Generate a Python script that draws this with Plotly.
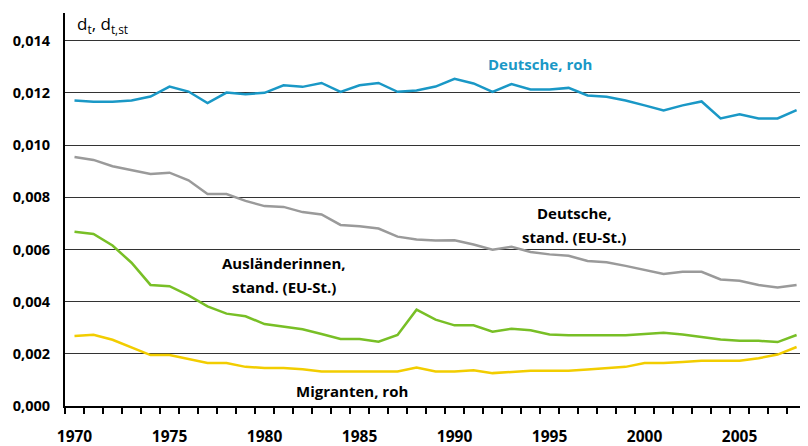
import plotly.graph_objects as go

years = list(range(1970, 2009))

deutsche_roh = [0.01171, 0.01166, 0.01166, 0.01171, 0.01186, 0.01224, 0.01205, 0.01161, 0.01201, 0.01195,
                0.01200, 0.01229, 0.01223, 0.01238, 0.01204, 0.01229, 0.01238, 0.01204, 0.01209, 0.01224,
                0.01254, 0.01236, 0.01204, 0.01234, 0.01213, 0.01213, 0.01219, 0.01190, 0.01185, 0.01171,
                0.01152, 0.01133, 0.01152, 0.01167, 0.01102, 0.01118, 0.01102, 0.01102, 0.01134]

deutsche_stand = [0.00954, 0.00943, 0.00919, 0.00903, 0.00889, 0.00894, 0.00865, 0.00812, 0.00812, 0.00786,
                  0.00766, 0.00763, 0.00743, 0.00734, 0.00694, 0.00689, 0.00680, 0.00649, 0.00638, 0.00634,
                  0.00635, 0.00619, 0.00599, 0.00610, 0.00590, 0.00581, 0.00576, 0.00556, 0.00551, 0.00537,
                  0.00522, 0.00506, 0.00514, 0.00514, 0.00485, 0.00480, 0.00464, 0.00454, 0.00464]

auslaenderinnen_stand = [0.00668, 0.00659, 0.00615, 0.00549, 0.00464, 0.00459, 0.00424, 0.00382, 0.00354, 0.00344,
                         0.00314, 0.00304, 0.00294, 0.00276, 0.00257, 0.00257, 0.00246, 0.00272, 0.00369, 0.00331,
                         0.00309, 0.00309, 0.00285, 0.00296, 0.00290, 0.00274, 0.00271, 0.00271, 0.00271, 0.00271,
                         0.00276, 0.00281, 0.00274, 0.00264, 0.00255, 0.00250, 0.00250, 0.00245, 0.00272]

migranten_roh = [0.00268, 0.00273, 0.00254, 0.00224, 0.00195, 0.00195, 0.00180, 0.00165, 0.00165, 0.00150,
                 0.00146, 0.00146, 0.00141, 0.00132, 0.00132, 0.00132, 0.00132, 0.00132, 0.00147, 0.00132,
                 0.00132, 0.00137, 0.00126, 0.00131, 0.00135, 0.00135, 0.00135, 0.00140, 0.00145, 0.00150,
                 0.00165, 0.00165, 0.00169, 0.00173, 0.00173, 0.00173, 0.00183, 0.00197, 0.00226]

y_ticks = [0.000, 0.002, 0.004, 0.006, 0.008, 0.010, 0.012, 0.014]
y_tick_text = ["0,000", "0,002", "0,004", "0,006", "0,008", "0,010", "0,012", "0,014"]
x_ticks = [1970, 1975, 1980, 1985, 1990, 1995, 2000, 2005]

FONT = "Open Sans"
series = [
    (deutsche_roh, "#1a98c6"),
    (deutsche_stand, "#9a9a9a"),
    (auslaenderinnen_stand, "#78bf26"),
    (migranten_roh, "#f2cd00"),
]

fig = go.Figure()
for vals, col in series:
    fig.add_trace(go.Scatter(x=years, y=vals, mode="lines",
                             line=dict(color=col, width=2.5), showlegend=False))

labels = [
    (1994.5, 0.01310, "Deutsche, roh", "#1a98c6"),
    (1996.3, 0.00739, "Deutsche,", "#000000"),
    (1996.3, 0.00648, "stand. (EU-St.)", "#000000"),
    (1981.05, 0.00548, "Ausländerinnen,", "#000000"),
    (1981.05, 0.00456, "stand. (EU-St.)", "#000000"),
    (1984.6, 0.00057, "Migranten, roh", "#000000"),
]
for lx, ly, txt, col in labels:
    fig.add_annotation(x=lx, y=ly, text="<b>" + txt + "</b>", showarrow=False,
                       font=dict(family=FONT, size=15, color=col),
                       align="center", xanchor="center", yanchor="middle")

fig.add_annotation(x=0, xref="paper", y=1.0, yref="paper", xanchor="left", yanchor="middle",
                   text="d<sub>t</sub>, d<sub>t,st</sub>", showarrow=False, xshift=10, yshift=-11,
                   font=dict(family=FONT, size=17, color="#000000"))

fig.update_layout(
    width=800, height=438,
    margin=dict(l=57, r=0, t=5, b=40),
    paper_bgcolor="white", plot_bgcolor="white",
    xaxis=dict(range=[1969.5, 2008.6], tickvals=x_ticks, ticks="",
               showgrid=False, showline=True, linecolor="black", linewidth=2,
               tickfont=dict(family=FONT, size=15.5, color="black", weight="bold"),
               ticklabelstandoff=15, automargin=False,
               minor=dict(ticks="outside", tick0=1969.5, dtick=1, ticklen=6,
                          tickwidth=2, tickcolor="black", showgrid=False),
               zeroline=False),
    yaxis=dict(range=[0, 0.01506], tickvals=y_ticks, ticktext=y_tick_text, ticks="",
               showgrid=True, gridcolor="#333333", gridwidth=1,
               showline=True, linecolor="black", linewidth=2,
               tickfont=dict(family=FONT, size=14.5, color="black", weight="bold"),
               ticklabelstandoff=10, automargin=False, zeroline=False),
)

fig.write_html("out.html")
